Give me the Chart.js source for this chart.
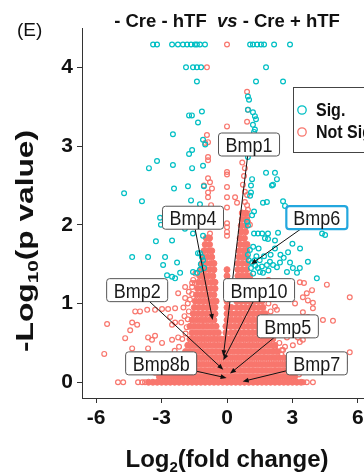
<!DOCTYPE html>
<html>
<head>
<meta charset="utf-8">
<script src="https://cdn.jsdelivr.net/npm/chart.js@4.4.1/dist/chart.umd.min.js"></script>
<style>
  html, body { margin: 0; padding: 0; background: #fff; overflow: hidden; }
  #wrap { width: 380px; height: 475px; }
</style>
</head>
<body>
<div id="wrap"><canvas id="volcano" width="380" height="475"></canvas></div>
<script>
// significant genes (teal), [log2FC, -log10 p]
const sigPoints = [
  [-3.39, 4.29], [-3.21, 4.29], [-2.52, 4.29], [-2.25, 4.29], [-2.02, 4.29], [-1.83, 4.29], [-1.65, 4.29],
  [-1.47, 4.29], [-1.38, 4.29], [-1.24, 4.29], [-1.01, 4.29], [1.06, 4.29], [1.19, 4.29], [1.38, 4.29],
  [1.56, 4.29], [1.70, 4.29], [2.16, 4.29], [2.89, 4.29],
  [-1.88, 4.0], [-1.56, 4.0], [-1.38, 4.0], [-1.19, 4.0], [1.79, 4.0],
  [-1.38, 3.82], [1.33, 3.82], [2.57, 3.82],
  [1.01, 3.59], [0.96, 3.63], [-1.15, 3.44], [-1.74, 3.39], [-1.61, 3.39], [-1.33, 3.30], [0.96, 3.46],
  [1.19, 3.43], [1.28, 3.38], [1.33, 3.34], [1.19, 3.27], [1.28, 3.21], [1.24, 3.18],
  [-2.48, 3.15], [-1.10, 3.08], [-1.0, 3.02], [-1.6, 2.95], [-1.74, 2.9], [-3.21, 2.81], [-3.58, 2.72],
  [-2.48, 2.76], [-1.6, 2.72], [-1.10, 2.75], [-1.79, 2.49], [-2.43, 2.46], [-1.06, 2.49], [-4.72, 2.4],
  [-3.9, 2.3], [-1.65, 2.31], [-1.24, 2.26], [-3.07, 2.09], [-3.03, 2.0], [-1.93, 1.95], [-1.56, 1.89],
  [-1.10, 1.86], [-3.26, 1.79], [-2.52, 1.8],
  [0.96, 2.86], [1.79, 2.66], [2.2, 2.66], [2.29, 2.58], [2.11, 2.51], [2.06, 2.5], [1.15, 2.58],
  [1.1, 2.5], [1.1, 2.41], [1.06, 2.37], [1.65, 2.28], [1.83, 2.29], [2.57, 2.3], [2.66, 2.24],
  [1.24, 2.17], [1.15, 2.12], [0.92, 2.04], [0.96, 1.99], [2.34, 1.9], [1.24, 1.89], [1.42, 1.89],
  [1.61, 1.89], [1.88, 1.89], [1.74, 1.83], [1.88, 1.82], [4.36, 1.89], [4.5, 1.87], [2.2, 1.8], [3.35, 1.7],
  [0.96, 1.62], [1.15, 1.52], [1.28, 1.55], [1.42, 1.45], [1.51, 1.40], [1.65, 1.39], [1.83, 1.49],
  [1.97, 1.53], [2.11, 1.49], [2.29, 1.46], [2.43, 1.52], [2.89, 1.52], [3.02, 1.45], [3.21, 1.39],
  [2.75, 1.40], [3.34, 1.45], [3.71, 1.53], [4.12, 1.32], [1.0, 1.55], [1.1, 1.45], [1.2, 1.38],
  [1.3, 1.48], [1.35, 1.6], [1.5, 1.55], [1.6, 1.47], [1.05, 1.68], [1.2, 1.72], [1.45, 1.7], [1.7, 1.6],
  [1.9, 1.42], [2.0, 1.62], [2.2, 1.7], [2.45, 1.62], [2.6, 1.58], [2.8, 1.65], [3.0, 1.76],
  [-4.35, 1.59], [-3.62, 1.59], [-2.84, 1.59], [-2.93, 1.49], [-2.29, 1.52], [-2.75, 1.36], [-2.52, 1.34],
  [-2.38, 1.32], [-2.15, 1.39], [-1.56, 1.40], [-1.37, 1.39], [-1.24, 1.43], [-1.33, 1.64], [-1.10, 1.55],
  [-1.24, 1.64], [-1.15, 1.59], [-1.2, 1.5], [-1.05, 1.45]
];

// non significant genes (red), sparse ones
const nsPoints = [
  [0, 4.29], [-0.92, 4.0], [0.92, 3.69], [0.96, 3.46], [0.92, 3.31], [0, 3.25], [-0.92, 3.14], [-1.0, 3.04],
  [-0.87, 3.05], [-0.87, 2.86], [-0.87, 2.82], [0, 2.67], [0, 2.64], [-0.87, 2.59], [-0.78, 2.54],
  [-0.69, 2.46], [-0.87, 2.41], [0, 2.48], [0, 2.35], [0, 2.22], [-0.87, 2.35], [-0.73, 2.25], [0, 2.02],
  [0, 1.97], [0, 1.91], [0, 1.86], [-0.78, 1.89], [-0.83, 1.84], [-1.06, 2.5],
  [0.73, 2.51], [0.82, 2.42], [0.92, 2.38], [0.82, 2.29], [0.92, 2.25], [0.96, 2.19], [0.82, 2.15],
  [0.92, 2.09], [0.96, 2.04], [1.05, 2.0], [0.82, 1.96], [0.78, 2.62], [0.82, 2.72], [0.7, 2.79],
  [0.37, 2.35], [0.46, 2.28],
  [-5.5, 0.74], [-5.63, 0.36], [-4.67, 0.56], [-4.44, 0.66], [-4.35, 0.76], [-4.12, 0.73], [-4.21, 0.9],
  [-3.99, 0.9], [-3.66, 0.92], [-3.3, 0.92], [-2.98, 0.93], [-2.7, 0.93], [-2.38, 0.94], [-3.62, 0.57],
  [-3.44, 0.54], [-3.3, 0.59], [-2.98, 0.5], [-2.52, 0.54], [-2.24, 0.57], [-2.24, 1.13], [-1.92, 1.07],
  [-1.6, 1.21], [-1.47, 1.26], [-1.6, 1.26], [-1.92, 1.21], [-2.61, 0.83], [-2.38, 0.76], [-2.52, 0.73],
  [-1.95, 0.84], [-2.1, 0.76], [-5.0, 0], [-4.76, 0], [-4.08, 0], [-3.89, 0], [-3.76, 0], [-4.35, 0.43],
  [-3.62, 0.43], [-2.8, 0.35], [-2.6, 0.3], [-2.4, 0.4], [-2.2, 0.45], [-1.8, 1.0], [-2.0, 0.95],
  [-1.75, 1.15], [-3.3, 0.12], [-3.0, 0.2], [-2.7, 0.25],
  [-1.85, 0.7], [-1.9, 0.62], [-2.05, 0.55], [-1.8, 0.8], [-1.75, 0.9], [-1.7, 1.05], [-1.6, 1.12],
  [-1.55, 1.3], [-1.45, 1.38], [-2.2, 0.3], [-2.45, 0.2], [-2.8, 0.12],
  [3.66, 1.13], [3.94, 1.01], [4.4, 0.79], [4.86, 0.78], [5.63, 1.08], [4.58, 1.24], [3.34, 1.27],
  [3.48, 0.89], [3.71, 0.83], [3.94, 0.94], [3.02, 0.66], [2.75, 0.57], [2.43, 0.75], [2.57, 0.41],
  [3.02, 0.47], [3.34, 0.51], [3.71, 0.6], [5.63, 0.38], [5.4, 0.25], [3.9, 1.17], [3.53, 1.26],
  [3.48, 1.08], [3.71, 1.04], [3.12, 1.0], [2.2, 0.96], [2.29, 0.92], [3.25, 0.57], [3.48, 0.54],
  [2.2, 0.45], [2.52, 0.41], [2.66, 0.45], [3.66, 0], [3.94, 0], [3.5, 0], [3.1, 0.35], [3.3, 0.25],
  [2.9, 0.3], [2.0, 1.1], [1.9, 1.3], [2.1, 1.2], [3.1, 0.12], [3.3, 0.1],
  [2.3, 0.62], [2.4, 0.5], [2.5, 0.35], [2.85, 0.2], [2.2, 0.7], [2.1, 0.8], [2.0, 0.9], [1.9, 1.0],
  [3.2, 0.15]
];

// dense non significant core, one row per -log10 p level
const coreRowsY = [0, 0.07, 0.15, 0.23, 0.31, 0.39, 0.47, 0.55, 0.63, 0.71, 0.79, 0.87, 0.95, 1.03, 1.11,
  1.19, 1.27, 1.35, 1.43, 1.51, 1.59, 1.67, 1.75, 1.83, 1.91, 1.99, 2.07, 2.15];
const coreRowsX = [
  [-3.6, -3.4, -3.2, -3.0, -2.8, -2.6, -2.4, -2.2, -2.0, -1.8, -1.6, -1.4, -1.2, -1.0, -0.8, -0.6, -0.4, -0.2, 0, 0.2, 0.4, 0.6, 0.8, 1.0, 1.2, 1.4, 1.6, 1.8, 2.0, 2.2, 2.4, 2.6, 2.8, 3.0, 3.2, 3.4],
  [-3.1, -2.9, -2.7, -2.5, -2.3, -2.1, -1.9, -1.7, -1.5, -1.3, -1.1, -0.9, -0.7, -0.5, -0.3, -0.1, 0.1, 0.3, 0.5, 0.7, 0.9, 1.1, 1.3, 1.5, 1.7, 1.9, 2.1, 2.3, 2.5, 2.7, 2.9, 3.1],
  [-2.6, -2.4, -2.2, -2.0, -1.8, -1.6, -1.4, -1.2, -1.0, -0.8, -0.6, -0.4, -0.2, 0, 0.2, 0.4, 0.6, 0.8, 1.0, 1.2, 1.4, 1.6, 1.8, 2.0, 2.2, 2.4, 2.6, 2.8],
  [-2.3, -2.1, -1.9, -1.7, -1.5, -1.3, -1.1, -0.9, -0.7, -0.5, -0.3, -0.1, 0.1, 0.3, 0.5, 0.7, 0.9, 1.1, 1.3, 1.5, 1.7, 1.9, 2.1, 2.3, 2.5, 2.7],
  [-2.0, -1.8, -1.6, -1.4, -1.2, -1.0, -0.8, -0.6, -0.4, -0.2, 0, 0.2, 0.4, 0.6, 0.8, 1.0, 1.2, 1.4, 1.6, 1.8, 2.0, 2.2, 2.4, 2.6],
  [-1.9, -1.7, -1.5, -1.3, -1.1, -0.9, -0.7, -0.5, -0.3, -0.1, 0.1, 0.3, 0.5, 0.7, 0.9, 1.1, 1.3, 1.5, 1.7, 1.9, 2.1, 2.3],
  [-1.8, -1.6, -1.4, -1.2, -1.0, -0.8, -0.6, -0.4, -0.2, 0, 0.2, 0.4, 0.6, 0.8, 1.0, 1.2, 1.4, 1.6, 1.8, 2.0, 2.2],
  [-1.7, -1.5, -1.3, -1.1, -0.9, -0.7, -0.5, -0.3, -0.1, 0.1, 0.3, 0.5, 0.7, 0.9, 1.1, 1.3, 1.5, 1.7, 1.9, 2.1],
  [-1.6, -1.4, -1.2, -1.0, -0.8, -0.6, -0.4, -0.05, 0.2, 0.4, 0.6, 0.8, 1.0, 1.2, 1.4, 1.6, 1.8, 2.0],
  [-1.7, -1.5, -1.3, -1.1, -0.9, -0.7, -0.5, -0.05, 0.15, 0.35, 0.55, 0.75, 0.95, 1.15, 1.35, 1.55, 1.75, 1.9],
  [-1.6, -1.4, -1.2, -1.0, -0.8, -0.6, 0.0, 0.2, 0.4, 0.6, 0.8, 1.0, 1.2, 1.4, 1.6, 1.8],
  [-1.55, -1.35, -1.15, -0.95, -0.75, -0.55, 0.0, 0.2, 0.4, 0.6, 0.8, 1.0, 1.2, 1.4, 1.6, 1.75],
  [-1.5, -1.3, -1.1, -0.9, -0.7, -0.55, 0.0, 0.2, 0.45, 0.65, 0.85, 1.05, 1.25, 1.45, 1.65],
  [-1.45, -1.25, -1.05, -0.85, -0.65, -0.5, 0.0, 0.45, 0.65, 0.85, 1.05, 1.25, 1.45, 1.6],
  [-1.4, -1.2, -1.0, -0.8, -0.6, 0.0, 0.1, 0.45, 0.65, 0.85, 1.05, 1.25, 1.45],
  [-1.35, -1.15, -0.95, -0.75, -0.55, 0.0, 0.1, 0.45, 0.65, 0.85, 1.05, 1.25],
  [-1.3, -1.1, -0.9, -0.7, -0.55, 0.0, 0.1, 0.45, 0.65, 0.85, 1.05, 1.2],
  [-1.25, -1.05, -0.85, -0.65, 0.0, 0.5, 0.7, 0.9, 1.05],
  [-1.2, -1.0, -0.8, -0.6, 0.0, 0.5, 0.7, 0.9],
  [-1.15, -0.95, -0.75, -0.6, 0.5, 0.7, 0.9],
  [-1.1, -0.9, -0.7, 0.55, 0.75, 0.9],
  [-1.05, -0.85, -0.7, 0.55, 0.75, 0.9],
  [-1.0, -0.8, 0.6, 0.8, 0.92],
  [-0.95, -0.8, 0.6, 0.8],
  [0.65, 0.85],
  [0.65, 0.85],
  [0.7, 0.88],
  [0.7, 0.88]
];

// labelled genes: point, then where the label box sits
const geneNames = ['Bmp1', 'Bmp4', 'Bmp6', 'Bmp2', 'Bmp10', 'Bmp5', 'Bmp8b', 'Bmp7'];
const geneX = [-0.17, -0.66, 1.1, -0.17, -0.17, 0.14, -0.02, 0.72];
const geneY = [0.33, 0.79, 1.5, 0.16, 0.28, 0.11, 0.055, 0.01];
const boxX = [1.01, -1.56, 4.12, -4.12, 1.47, 2.79, -3.02, 4.12];
const boxY = [3.02, 2.09, 2.09, 1.17, 1.17, 0.71, 0.24, 0.24];
const highlighted = ['Bmp6'];

const xTickStep = 3;
const yTickStep = 1;

const teal = '#00BFC4';
const salmon = '#F8766D';
const FONT = '"Liberation Sans", Arial, sans-serif';

const toXY = (p) => ({ x: p[0], y: p[1] });
const corePoints = [];
coreRowsY.forEach((y, i) => {
  coreRowsX[i].forEach((x) => corePoints.push({ x: x, y: y }));
});

function drawParts(ctx, parts, x, y) {
  // parts: [text, font, dy] drawn left to right, centred on x
  let w = 0;
  parts.forEach((p) => { ctx.font = p[1]; w += ctx.measureText(p[0]).width; });
  let cx = x - w / 2;
  parts.forEach((p) => {
    ctx.font = p[1];
    ctx.fillText(p[0], cx, y + (p[2] || 0));
    cx += ctx.measureText(p[0]).width;
  });
  return w;
}

function partsWidth(ctx, parts) {
  let w = 0;
  parts.forEach((p) => { ctx.font = p[1]; w += ctx.measureText(p[0]).width; });
  return w;
}

function roundRect(ctx, x, y, w, h, r) {
  ctx.beginPath();
  ctx.moveTo(x + r, y);
  ctx.lineTo(x + w - r, y);
  ctx.quadraticCurveTo(x + w, y, x + w, y + r);
  ctx.lineTo(x + w, y + h - r);
  ctx.quadraticCurveTo(x + w, y + h, x + w - r, y + h);
  ctx.lineTo(x + r, y + h);
  ctx.quadraticCurveTo(x, y + h, x, y + h - r);
  ctx.lineTo(x, y + r);
  ctx.quadraticCurveTo(x, y, x + r, y);
  ctx.closePath();
}

const decorations = {
  id: 'decorations',
  afterDraw(chart) {
    const ctx = chart.ctx;
    const xs = chart.scales.x;
    const ys = chart.scales.y;
    const area = chart.chartArea;
    ctx.save();
    ctx.fillStyle = '#000';
    ctx.textBaseline = 'alphabetic';

    // gene labels with leader arrows
    geneNames.forEach((name, i) => {
      const px = xs.getPixelForValue(geneX[i]);
      const py = ys.getPixelForValue(geneY[i]);
      const bx = xs.getPixelForValue(boxX[i]);
      const by = ys.getPixelForValue(boxY[i]);
      ctx.font = '18px ' + FONT;
      const w = ctx.measureText(name).width + 14;
      const h = 23;
      const dx = px - bx;
      const dy = py - by;
      const t = Math.min(w / 2 / Math.abs(dx || 1e-6), h / 2 / Math.abs(dy || 1e-6));
      const sx = bx + dx * t;
      const sy = by + dy * t;
      const len = Math.hypot(px - sx, py - sy);
      const ux = (px - sx) / len;
      const uy = (py - sy) / len;
      ctx.strokeStyle = '#111';
      ctx.lineWidth = 1;
      ctx.beginPath();
      ctx.moveTo(sx, sy);
      ctx.lineTo(px - ux * 4, py - uy * 4);
      ctx.stroke();
      ctx.beginPath();
      ctx.moveTo(px, py);
      ctx.lineTo(px - ux * 6 - uy * 2.4, py - uy * 6 + ux * 2.4);
      ctx.lineTo(px - ux * 6 + uy * 2.4, py - uy * 6 - ux * 2.4);
      ctx.closePath();
      ctx.fillStyle = '#111';
      ctx.fill();

      const hi = highlighted.includes(name);
      roundRect(ctx, bx - w / 2, by - h / 2, w, h, 3);
      ctx.fillStyle = '#fff';
      ctx.fill();
      ctx.strokeStyle = hi ? '#23A7DE' : '#555';
      ctx.lineWidth = hi ? 2.2 : 1;
      ctx.stroke();
      ctx.save();
      ctx.translate(bx, by + 7.5);
      ctx.scale(1, 1.15);
      ctx.fillStyle = '#1a1a1a';
      ctx.textAlign = 'center';
      ctx.font = '18px ' + FONT;
      ctx.fillText(name, 0, 0);
      ctx.restore();
    });

    // legend box, partly cut by the right edge
    ctx.fillStyle = '#fff';
    ctx.fillRect(area.right - 78, area.top + 59, 110, 65);
    ctx.strokeStyle = '#444';
    ctx.lineWidth = 1;
    ctx.strokeRect(area.right - 78.5, area.top + 59.5, 110, 65);
    const legendItems = [['Sig.', teal], ['Not Sig.', salmon]];
    legendItems.forEach((it, k) => {
      const ly = area.top + 82 + k * 22;
      ctx.beginPath();
      ctx.arc(area.right - 70, ly, 4.2, 0, Math.PI * 2);
      ctx.strokeStyle = it[1];
      ctx.lineWidth = 1.3;
      ctx.stroke();
      ctx.save();
      ctx.translate(area.right - 56, ly + 6);
      ctx.scale(1, 1.12);
      ctx.fillStyle = '#111';
      ctx.font = 'bold 16px ' + FONT;
      ctx.fillText(it[0], 0, 0);
      ctx.restore();
    });

    // title
    const cx = (area.left + area.right) / 2;
    ctx.fillStyle = '#111';
    drawParts(ctx, [
      ['- Cre - hTF  ', 'bold 18.5px ' + FONT],
      ['vs', 'italic bold 18.5px ' + FONT],
      [' - Cre + hTF', 'bold 18.5px ' + FONT]
    ], cx, 27);

    // panel tag
    ctx.font = '19px ' + FONT;
    ctx.fillText('(E)', 17, 36);

    // x axis title
    drawParts(ctx, [
      ['Log', 'bold 24px ' + FONT],
      ['2', 'bold 15px ' + FONT, 5],
      ['(fold change)', 'bold 24px ' + FONT]
    ], cx, 467);

    // y axis title, stretched along its length like the original
    const yParts = [
      ['-Log', 'bold 23px ' + FONT],
      ['10', 'bold 15px ' + FONT, 5],
      ['(p value)', 'bold 23px ' + FONT]
    ];
    const yw = partsWidth(ctx, yParts);
    ctx.translate(33, 241);
    ctx.rotate(-Math.PI / 2);
    ctx.scale(222 / yw, 1);
    drawParts(ctx, yParts, 0, 0);
    ctx.restore();
  }
};

const tickFont = { family: FONT, size: 21, weight: 'bold' };

const volcano = new Chart(document.getElementById('volcano'), {
  type: 'scatter',
  data: {
    datasets: [
      {
        label: 'Sig.',
        data: sigPoints.map(toXY),
        pointRadius: 2.4,
        borderWidth: 1.2,
        borderColor: teal,
        backgroundColor: 'rgba(0,0,0,0)',
      },
      {
        label: 'Not Sig.',
        data: nsPoints.map(toXY),
        pointRadius: 2.4,
        borderWidth: 1.2,
        borderColor: salmon,
        backgroundColor: 'rgba(0,0,0,0)',
      },
      {
        label: 'Not Sig. (dense)',
        data: corePoints,
        pointRadius: 3,
        borderWidth: 1,
        borderColor: salmon,
        backgroundColor: salmon,
      },
    ],
  },
  plugins: [decorations],
  options: {
    responsive: false,
    animation: false,
    events: [],
    layout: {
      padding: { top: 28, right: 8, bottom: 0, left: 0 },
    },
    plugins: {
      legend: { display: false },
      tooltip: { enabled: false },
    },
    scales: {
      x: {
        type: 'linear',
        min: -6.65,
        max: 6.65,
        afterFit: (s) => { s.height = 77; },
        ticks: {
          stepSize: xTickStep,
          includeBounds: false,
          color: '#111',
          font: tickFont,
          padding: 3,
          maxRotation: 0,
        },
        grid: { drawOnChartArea: false, tickLength: 5, color: '#333' },
        border: { color: '#333', width: 1 },
      },
      y: {
        type: 'linear',
        min: -0.2,
        max: 4.5,
        afterFit: (s) => { s.width = 82; },
        ticks: {
          stepSize: yTickStep,
          includeBounds: false,
          color: '#111',
          font: tickFont,
          padding: 4,
        },
        grid: { drawOnChartArea: false, tickLength: 5, color: '#333' },
        border: { color: '#333', width: 1 },
      },
    },
  },
});
</script>
</body>
</html>
